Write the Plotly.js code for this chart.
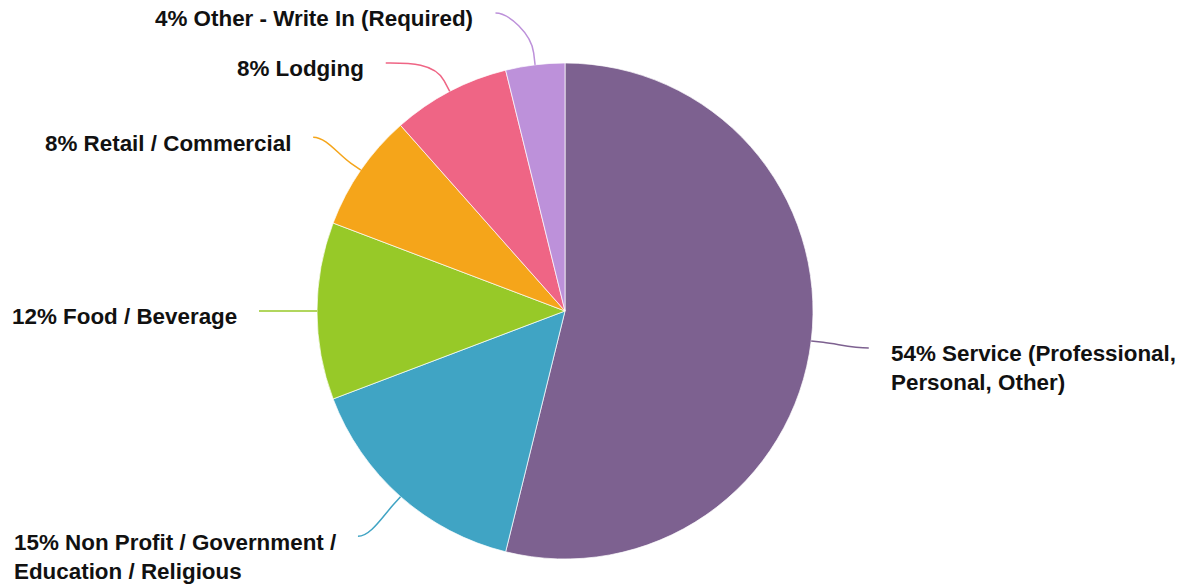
<!DOCTYPE html>
<html>
<head>
<meta charset="utf-8">
<script src="https://cdn.plot.ly/plotly-3.0.1.min.js"></script>
<style>
  html, body { margin: 0; padding: 0; background: #fff; }
  #chart { width: 1185px; height: 584px; }
</style>
</head>
<body>
<div id="chart"></div>
<script>
// ---- data ----
const categories = [
  "Service (Professional, Personal, Other)",
  "Non Profit / Government / Education / Religious",
  "Food / Beverage",
  "Retail / Commercial",
  "Lodging",
  "Other - Write In (Required)"
];
const counts = [14, 4, 3, 2, 2, 1];
const colors = ["#7D6190", "#40A4C4", "#97C928", "#F5A51A", "#EF6585", "#BD91DA"];

// ---- geometry (layout) ----
const W = 1185, H = 584;
const marginTop = 63, marginBottom = 25;
const cx = 565, cy = (marginTop + (H - marginBottom)) / 2;
const r = (H - marginTop - marginBottom) / 2;
const labelR = 306;
const fontSize = 22.4;
const lh = fontSize * 1.3;
const fontFamily = "Liberation Sans, Arial, Helvetica, sans-serif";
const textGap = 21;
const textDy = 7;

const total = counts.reduce((a, b) => a + b, 0);

// measure text width
const cvs = document.createElement("canvas");
const ctx = cvs.getContext("2d");
ctx.font = "bold " + fontSize + "px Liberation Sans, Arial, sans-serif";
function wrap(text, maxW) {
  const words = text.split(" ");
  const lines = [];
  let cur = "";
  words.forEach(w => {
    const t = cur ? cur + " " + w : w;
    if (cur && ctx.measureText(t).width > maxW) { lines.push(cur); cur = w; }
    else cur = t;
  });
  if (cur) lines.push(cur);
  return lines;
}

// slice mid angles (clockwise from 12 o'clock)
let acc = 0;
const items = counts.map((v, i) => {
  const a0 = acc / total * 2 * Math.PI;
  acc += v;
  const a1 = acc / total * 2 * Math.PI;
  const mid = (a0 + a1) / 2;
  const ux = Math.sin(mid), uy = -Math.cos(mid);
  const pct = Math.round(v / total * 100);
  return { i, ux, uy, left: ux < -1e-9, ny: cy + labelR * uy, full: pct + "% " + categories[i] };
});

function xFromY(d) {
  const dy = d.y - cy;
  const dx = Math.sqrt(Math.max(labelR * labelR - dy * dy, 0));
  d.x = cx + (d.left ? -dx : dx);
  d.tx = d.left ? d.x - textGap : d.x + textGap;
  const avail = d.left ? d.tx - 6 : W - d.tx - 6;
  d.lines = wrap(d.full, avail);
}

// de-overlap label y positions per side
const minGap = 50, topLimit = 13;
[true, false].forEach(side => {
  const s = items.filter(d => d.left === side).sort((a, b) => a.ny - b.ny);
  let prev = -Infinity;
  s.forEach(d => {
    d.y = Math.max(d.ny, topLimit, prev + minGap);
    prev = d.y;
  });
  s.forEach(d => xFromY(d));
  // keep text blocks inside the bottom edge
  for (let k = s.length - 1; k >= 0; k--) {
    const d = s[k];
    const bottomLim = (k === s.length - 1 ? H + 3 : s[k + 1].y - minGap + lh * d.lines.length);
    const bottom = d.y + textDy - lh / 2 + lh * d.lines.length;
    if (bottom > bottomLim) { d.y -= bottom - bottomLim; xFromY(d); }
  }
});

const px = x => x / W;
const py = y => 1 - y / H;

const shapes = [];
const annotations = [];
items.forEach(d => {
  const ex = cx + r * d.ux, ey = cy + r * d.uy;
  const bx = cx + (r + 12) * d.ux, by = cy + (r + 12) * d.uy;
  const dist = Math.hypot(d.x - bx, d.y - by);
  const c1x = bx + d.ux * 0.35 * dist, c1y = by + d.uy * 0.35 * dist;
  const sgn = d.left ? 1 : -1;
  const c2x = d.x + sgn * 0.35 * Math.abs(d.x - bx), c2y = d.y;
  const path = `M ${px(ex)} ${py(ey)} L ${px(bx)} ${py(by)} C ${px(c1x)} ${py(c1y)} ${px(c2x)} ${py(c2y)} ${px(d.x)} ${py(d.y)}`;
  shapes.push({
    type: "path", xref: "paper", yref: "paper", path: path,
    line: { color: colors[d.i], width: 1.5 }
  });
  annotations.push({
    xref: "paper", yref: "paper",
    x: px(d.tx), y: py(d.y + textDy - lh / 2),
    xanchor: d.left ? "right" : "left", yanchor: "top", align: "left",
    showarrow: false, borderpad: 0,
    text: d.lines.map(l => "<b>" + l + "</b>").join("<br>"),
    font: { family: fontFamily, size: fontSize, color: "#111111" }
  });
});

const trace = {
  type: "pie",
  labels: categories,
  values: counts,
  sort: false,
  direction: "clockwise",
  rotation: 0,
  textinfo: "none",
  hoverinfo: "label+percent",
  marker: { colors: colors, line: { color: "rgba(255,255,255,0.7)", width: 1 } },
  domain: { x: [0, (2 * cx) / W], y: [marginBottom / H, 1 - marginTop / H] }
};

const layout = {
  width: W, height: H,
  margin: { l: 0, r: 0, t: 0, b: 0 },
  showlegend: false,
  paper_bgcolor: "#ffffff",
  plot_bgcolor: "#ffffff",
  shapes: shapes,
  annotations: annotations
};

Plotly.newPlot("chart", [trace], layout, { displayModeBar: false, staticPlot: true });
</script>
</body>
</html>
